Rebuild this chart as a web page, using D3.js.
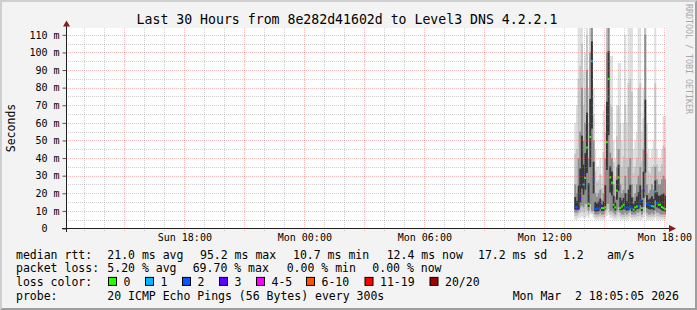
<!DOCTYPE html>
<html>
<head>
<meta charset="utf-8">
<script src="https://cdn.jsdelivr.net/npm/d3@7"></script>
<style>
	body { margin: 0; background: #f3f3f3; }
	svg { display: block; }
	text { font-family: "DejaVu Sans Mono", monospace; fill: #000; }
	text.title { font-size: 13.2px; }
	text.label { font-size: 11.5px; }
	text.legend { font-size: 11.5px; white-space: pre; }
	text.mark { font-size: 8.3px; fill: #a8a8a8; }
	.axis text { font-size: 10px; }
	.axis path { display: none; }
	.grid-minor { stroke: rgba(143,143,143,0.42); stroke-dasharray: 1 1; }
	.grid-major { stroke: rgba(240,90,90,0.4); stroke-dasharray: 1 1; }
</style>
</head>
<body>
<div id="chart"></div>
<script>
const title = "Last 30 Hours from 8e282d41602d to Level3 DNS 4.2.2.1";
const yTitle = "Seconds";
const watermark = "RRDTOOL / TOBI OETIKER";

// 5 minute steps on Mon Mar 2 (end of each step)
const stepTimes = ["13:35","13:40","13:45","13:50","13:55","14:00","14:05","14:10","14:15","14:20",
	"14:25","14:30","14:35","14:40","14:45","14:50","14:55","15:00","15:05","15:10",
	"15:15","15:20","15:25","15:30","15:35","15:40","15:45","15:50","15:55","16:00",
	"16:05","16:10","16:15","16:20","16:25","16:30","16:35","16:40","16:45","16:50",
	"16:55","17:00","17:05","17:10","17:15","17:20","17:25","17:30","17:35","17:40",
	"17:45","17:50","17:55","18:00","18:05"];

// median rtt in ms
const medianMs = [12,12,11.5,17,30.5,25,28.7,46,14,52, 95,28,11,11,11.5,13,11.6,11.6,12,49,
	85,29,26,13.5,12,21.5,29,11.6,12.5,13.5, 12,12,11.6,12.5,11.5,10.7,12,12.5,13,16,
	11.6,21.7,43,14,13.5,13,12.8,12.5,21,14.5, 13.5,13.5,12.2,11.6,11];

// lost pings out of 20
const lossCount = [2,2,3,3,3,1,0,0,0,0, 1,2,2,2,2,3,0,0,0,0, 0,0,0,0,0,0,0,0,0,0,
	2,2,2,2,2,0,0,0,2,2, 0,3,14,2,2,2,1,0,1,2, 0,0,0,0,0];

// ping spread (smoke) in ms
const pingMin = [5,5,6,6,7,6,6,7,6,8, 8,6,5,5,5,5,5,5,6,7, 8,6,6,5,5,5,6,5,5,5,
	5,5,5,6,5,5,5,5,5,5, 5,6,8,5,5,5,5,5,6,5, 5,5,5,5,5];
const pingLow = [9,9,10,12,13,12,14,14,10,14, 10,10,8,8,8,9,8,8,10,14, 14,10,10,9,8,10,12,9,8,8,
	9,8,9,10,8,8,8,9,9,10, 8,12,18,9,8,8,9,8,10,9, 9,8,8,8,8];
const pingHigh = [25,20,40,55,80,50,60,90,40,100, 120,50,20,18,20,22,16,20,40,100, 120,43,40,25,18,35,45,25,20,22,
	30,20,35,40,25,18,20,25,30,35, 22,45,110,25,20,22,25,22,35,28, 25,25,28,30,28];
const pingMax = [60,70,130,130,130,90,100,130,80,130, 130,80,45,35,35,40,30,67,70,130, 130,98,98,50,40,70,94,94,50,60,
	110,60,130,130,130,45,50,55,130,130, 55,80,130,60,45,40,45,50,130,45, 40,40,45,64,64];

const yTicks = [0,10,20,30,40,50,60,70,80,90,100,110];
const xLabelTimes = ["2026-03-01 18:00","2026-03-02 00:00","2026-03-02 06:00","2026-03-02 12:00","2026-03-02 18:00"];

const lossLabels = ["0","1","2","3","4-5","6-10","11-19","20/20"];
const lossLimits = [0,1,2,3,5,10,19,20];
const lossColors = ["#26ff00","#00b8ff","#0059ff","#5e00ff","#ff00ff","#ff5500","#ff0000","#a10000"];

const rttText = ["median rtt:","21.0 ms avg","95.2 ms max","10.7 ms min","12.4 ms now","17.2 ms sd","1.2","am/s"];
const lossText = ["packet loss:","5.20 % avg","69.70 % max","0.00 % min","0.00 % now"];
const probeText = ["probe:","20 ICMP Echo Pings (56 Bytes) every 300s","Mon Mar  2 18:05:05 2026"];

// layout
const W = 697, H = 310;
const plotLeft = 66, plotRight = 666, plotTop = 28.5, plotBottom = 228.5;
const rttX = [16,107.3,200,293,386.7,478,563,607];
const lossX = [16,107.3,192.7,286.7,372.3];
const probeX = [16,107.3,512.7];
const boxX = [108.5,145.5,182.5,219.5,256.5,306.5,365,430];
const rowY = [258.5,272.2,285.9,299.6];

const parseTime = d3.timeParse("%Y-%m-%d %H:%M");
const steps = stepTimes.map((t, i) => {
	const end = parseTime("2026-03-02 " + t);
	return {
		start: d3.timeMinute.offset(end, -5),
		end,
		median: medianMs[i],
		loss: lossCount[i],
		min: pingMin[i],
		low: pingLow[i],
		high: pingHigh[i],
		max: pingMax[i]
	};
});

const svg = d3.select("#chart").append("svg")
	.attr("width", W)
	.attr("height", H);

svg.append("rect").attr("width", W).attr("height", H).attr("fill", "#f3f3f3");
svg.append("polygon")
	.attr("points", `0,0 ${W},0 ${W - 2},2 2,2 2,${H - 2} 0,${H}`)
	.attr("fill", "#cfcfcf");
svg.append("polygon")
	.attr("points", `${W},0 ${W},${H} 0,${H} 2,${H - 2} ${W - 2},${H - 2} ${W - 2},2`)
	.attr("fill", "#9e9e9e");

const xScale = d3.scaleTime()
	.domain([parseTime("2026-03-01 12:05"), parseTime("2026-03-02 18:05")])
	.range([plotLeft, plotRight]);

const yScale = d3.scaleLinear()
	.domain([0, 113.6])
	.range([plotBottom, plotTop]);

svg.append("rect")
	.attr("x", plotLeft)
	.attr("y", plotTop - 0.5)
	.attr("width", plotRight - plotLeft)
	.attr("height", plotBottom - plotTop + 0.5)
	.attr("fill", "#fff");

svg.append("clipPath").attr("id", "canvas")
	.append("rect")
	.attr("x", plotLeft)
	.attr("y", plotTop - 0.5)
	.attr("width", plotRight - plotLeft)
	.attr("height", plotBottom - plotTop + 0.5);

// smoke, lighter outside, darker towards the median
const smoke = svg.append("g").attr("clip-path", "url(#canvas)");
const bx = d => xScale(d.start);
const bw = d => xScale(d.end) - xScale(d.start) + 0.2;
const mix = (a, b, t) => a + (b - a) * t;

const layers = [
	{ lo: d => d.min, hi: d => d.max, fill: "#dedede" },
	{ lo: d => mix(d.min, d.low, 0.5), hi: d => mix(d.max, d.high, 0.5), fill: "#c4c4c4" },
	{ lo: d => d.low, hi: d => d.high, fill: "#8e8e8e" },
	{ lo: d => mix(d.low, d.median, 0.55), hi: d => mix(d.high, d.median, 0.55), fill: "#353535" }
];

layers.forEach(l => {
	smoke.append("g")
		.selectAll("rect")
		.data(steps)
		.enter()
		.append("rect")
		.attr("x", bx)
		.attr("width", bw)
		.attr("y", d => yScale(l.hi(d)))
		.attr("height", d => yScale(l.lo(d)) - yScale(l.hi(d)))
		.attr("fill", l.fill);
});

// grid
const hours = d3.timeHour.range(xScale.domain()[0], xScale.domain()[1]);
const grid = svg.append("g");
grid.selectAll("line.v")
	.data(hours)
	.enter()
	.append("line")
	.attr("class", d => d.getHours() % 3 === 0 ? "grid-major" : "grid-minor")
	.attr("x1", d => Math.round(xScale(d)) + 0.5)
	.attr("x2", d => Math.round(xScale(d)) + 0.5)
	.attr("y1", plotTop - 0.5)
	.attr("y2", plotBottom + 2.5);

const halfTicks = d3.range(5, 114, 5);
grid.selectAll("line.h")
	.data(halfTicks)
	.enter()
	.append("line")
	.attr("class", d => d % 10 === 0 ? "grid-major" : "grid-minor")
	.attr("x1", plotLeft)
	.attr("x2", plotRight)
	.attr("y1", d => Math.round(yScale(d)) + 0.5)
	.attr("y2", d => Math.round(yScale(d)) + 0.5);

// median by loss color
const lossColor = n => lossColors[lossLimits.findIndex(v => n <= v)];
svg.append("g")
	.attr("clip-path", "url(#canvas)")
	.selectAll("rect")
	.data(steps)
	.enter()
	.append("rect")
	.attr("x", bx)
	.attr("width", bw)
	.attr("y", d => yScale(d.median) - 1)
	.attr("height", 2)
	.attr("fill", d => lossColor(d.loss));

// axes
const yAxis = svg.append("g")
	.attr("class", "axis")
	.attr("transform", `translate(${plotLeft + 0.5}, 0)`)
	.call(d3.axisLeft(yScale)
		.tickValues(yTicks)
		.tickSize(4)
		.tickPadding(3)
		.tickFormat(d => d ? d + " m" : "0"));
yAxis.selectAll(".tick line").attr("stroke", "#555");
yAxis.selectAll(".tick text").filter(d => d === 0).attr("dx", -12);

svg.append("g")
	.attr("class", "axis")
	.attr("transform", `translate(0, ${plotBottom})`)
	.call(d3.axisBottom(xScale)
		.tickValues(xLabelTimes.map(parseTime))
		.tickSize(0)
		.tickPadding(5.8)
		.tickFormat(d3.timeFormat("%a %H:%M")));

svg.append("line")
	.attr("x1", plotLeft - 4).attr("x2", plotRight + 3)
	.attr("y1", plotBottom).attr("y2", plotBottom)
	.attr("stroke", "#1f1f1f");
svg.append("line")
	.attr("x1", plotLeft + 0.5).attr("x2", plotLeft + 0.5)
	.attr("y1", plotBottom + 3.5).attr("y2", plotTop - 4)
	.attr("stroke", "#1f1f1f");
svg.append("path")
	.attr("d", `M${plotRight + 3},${plotBottom - 3.5} L${plotRight + 10},${plotBottom} L${plotRight + 3},${plotBottom + 3.5} Z`)
	.attr("fill", "#7f1f1f");
svg.append("path")
	.attr("d", `M${plotLeft - 3},${plotTop - 2} L${plotLeft + 0.5},${plotTop - 8} L${plotLeft + 4},${plotTop - 2} Z`)
	.attr("fill", "#7f1f1f");

// titles
svg.append("text")
	.attr("class", "title")
	.attr("x", 347)
	.attr("y", 23.5)
	.attr("text-anchor", "middle")
	.text(title);

svg.append("text")
	.attr("class", "label")
	.attr("transform", "translate(15, 128) rotate(-90)")
	.attr("text-anchor", "middle")
	.text(yTitle);

svg.append("text")
	.attr("class", "mark")
	.attr("transform", "translate(686, 4) rotate(90)")
	.text(watermark);

// legend
const legend = svg.append("g");
const row = (texts, xs, y) => legend.selectAll(null)
	.data(texts)
	.enter()
	.append("text")
	.attr("class", "legend")
	.attr("x", (d, i) => xs[i])
	.attr("y", y)
	.text(d => d);

row(rttText, rttX, rowY[0]);
row(lossText, lossX, rowY[1]);
row(["loss color:"], [16], rowY[2]);
row(probeText, probeX, rowY[3]);

const keys = legend.selectAll("g.key")
	.data(lossLabels)
	.enter()
	.append("g")
	.attr("transform", (d, i) => `translate(${boxX[i]}, ${rowY[2] - 8.5})`);
keys.append("rect")
	.attr("width", 8)
	.attr("height", 8)
	.attr("fill", (d, i) => lossColors[i])
	.attr("stroke", "#000");
keys.append("text")
	.attr("class", "legend")
	.attr("x", 15)
	.attr("y", 8.5)
	.text(d => d);
</script>
</body>
</html>
